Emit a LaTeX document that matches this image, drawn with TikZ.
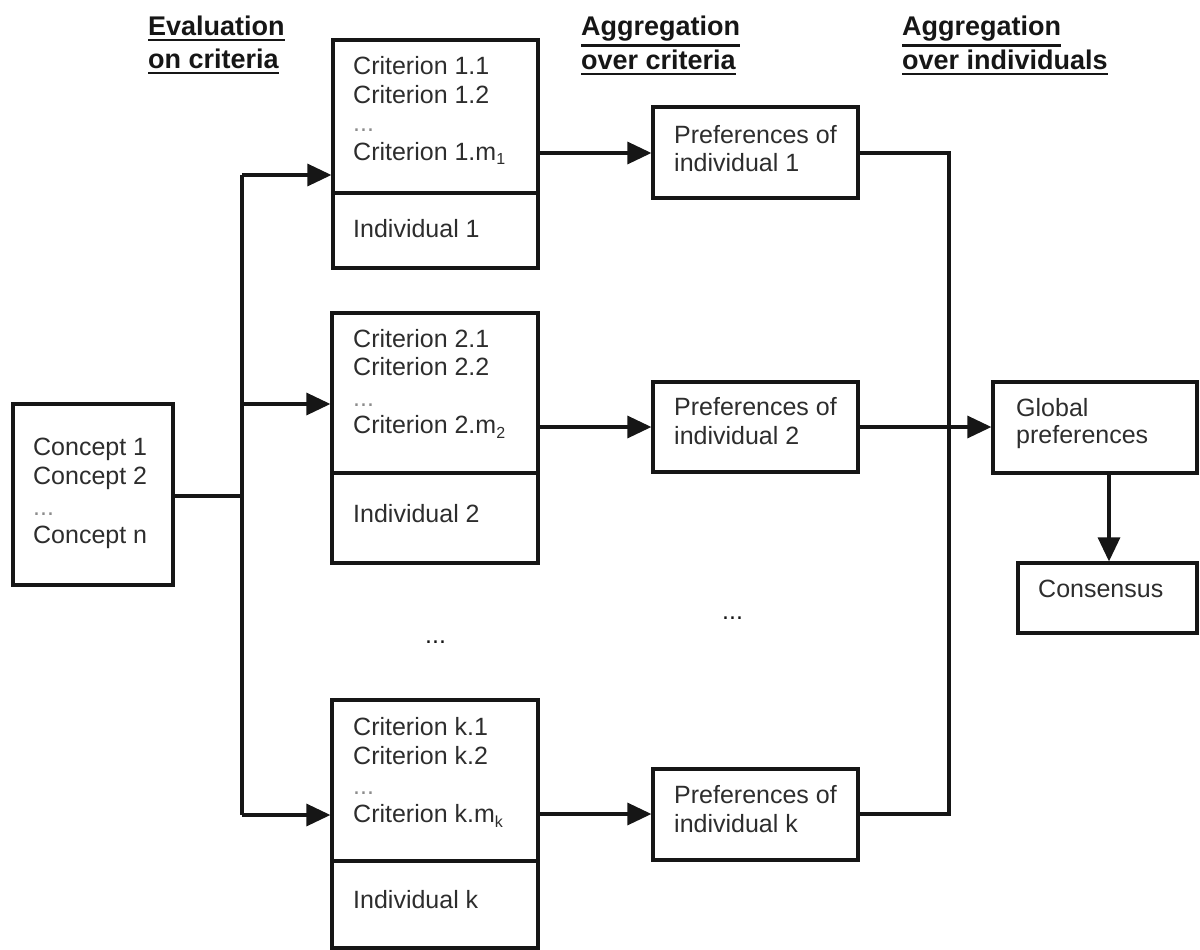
\documentclass[tikz,border=0pt]{standalone}
\usepackage{fontspec}
\setmainfont{Liberation Sans}
\usetikzlibrary{arrows.meta}
\definecolor{ln}{RGB}{22,22,22}
\definecolor{tx}{RGB}{45,45,45}
\newcommand{\subidx}[1]{\raisebox{-5pt}{\fontsize{16}{16}\selectfont #1}}
\begin{document}
\begin{tikzpicture}[x=1pt,y=-1pt,
  box/.style={draw=ln,line width=3.2pt,inner sep=0pt},
  lbl/.style={anchor=base west,inner sep=0pt,text=tx,font=\fontsize{25}{30}\selectfont},
  dotlbl/.style={lbl,text=black!45},
  hdr/.style={anchor=base west,inner sep=0pt,text=ln,font=\fontsize{27}{32}\selectfont\bfseries},
  uline/.style={draw=ln,line width=2.6pt},
  wire/.style={draw=ln,line width=3.2pt},
  arr/.style={wire,-{Triangle[length=24pt,width=22pt]}}]
\useasboundingbox (0,0) rectangle (1200,950);

% headers
\node[hdr] (h1a) at (148,36) {Evaluation};
\node[hdr] (h1b) at (148,69) {on criteria};
\node[hdr] (h2a) at (581,36) {Aggregation};
\node[hdr] (h2b) at (581,70) {over criteria};
\node[hdr] (h3a) at (902,36) {Aggregation};
\node[hdr] (h3b) at (902,70) {over individuals};
\foreach \h in {h1a,h1b,h2a,h2b,h3a,h3b}
  \draw[uline] ([yshift=-3.5pt]\h.south west) -- ([yshift=-3.5pt]\h.south east);

% boxes
\node[box,minimum width=160pt,minimum height=181pt] (con) at (93,494.5) {};
\node[box,minimum width=205pt,minimum height=228pt] (b1) at (435.5,154) {};
\node[box,minimum width=206pt,minimum height=250pt] (b2) at (435,438) {};
\node[box,minimum width=206pt,minimum height=248pt] (bk) at (435,824) {};
\node[box,minimum width=205pt,minimum height=91pt] (p1) at (755.5,152.5) {};
\node[box,minimum width=205pt,minimum height=90pt] (p2) at (755.5,427) {};
\node[box,minimum width=205pt,minimum height=91pt] (pk) at (755.5,814.5) {};
\node[box,minimum width=204pt,minimum height=91pt] (g) at (1095,427.5) {};
\node[box,minimum width=179pt,minimum height=70pt] (cons) at (1107.5,598) {};

% dividers
\coordinate (d1) at (0,193);
\coordinate (d2) at (0,473);
\coordinate (dk) at (0,861);
\draw[wire] (b1.west |- d1) -- (b1.east |- d1);
\draw[wire] (b2.west |- d2) -- (b2.east |- d2);
\draw[wire] (bk.west |- dk) -- (bk.east |- dk);

% concept texts
\node[lbl] (c1t) at (33,455) {Concept 1};
\node[lbl] (c2t) at (33,484) {Concept 2};
\node[dotlbl] (c3t) at (33,515) {...};
\node[lbl] (cnt) at (33,543) {Concept n};

% box 1 texts
\node[lbl] (t11) at (353,75) {Criterion 1.1};
\node[lbl] (t12) at (353,103) {Criterion 1.2};
\node[dotlbl] (t13) at (353,131) {...};
\node[lbl] (t1m) at (353,160) {Criterion 1.m\subidx{1}};
\node[lbl] (i1) at (353,237) {Individual 1};

% box 2 texts
\node[lbl] (t21) at (353,347) {Criterion 2.1};
\node[lbl] (t22) at (353,375) {Criterion 2.2};
\node[dotlbl] (t23) at (353,406) {...};
\node[lbl] (t2m) at (353,433) {Criterion 2.m\subidx{2}};
\node[lbl] (i2) at (353,522) {Individual 2};

% box k texts
\node[lbl] (tk1) at (353,735) {Criterion k.1};
\node[lbl] (tk2) at (353,764) {Criterion k.2};
\node[dotlbl] (tk3) at (353,794) {...};
\node[lbl] (tkm) at (353,822) {Criterion k.m\subidx{k}};
\node[lbl] (ik) at (353,908) {Individual k};

% preference texts
\node[lbl] (p1a) at (674,143) {Preferences of};
\node[lbl] (p1b) at (674,171) {individual 1};
\node[lbl] (p2a) at (674,415) {Preferences of};
\node[lbl] (p2b) at (674,444) {individual 2};
\node[lbl] (pka) at (674,803) {Preferences of};
\node[lbl] (pkb) at (674,832) {individual k};

% global / consensus texts
\node[lbl] (ga) at (1016,416) {Global};
\node[lbl] (gb) at (1016,443) {preferences};
\node[lbl] (ct) at (1038,597) {Consensus};

% ellipses between rows
\node[lbl,text=ln] (m1) at (425,643) {...};
\node[lbl,text=ln] (m2) at (722,619) {...};

% connectors left
\coordinate (c0) at (242,496);
\coordinate (c1) at (242,175);
\coordinate (c2) at (242,404);
\coordinate (ck) at (242,815);
\draw[wire] (con.east |- c0) -- (c0);
\draw[wire] (c1) -- (ck);
\draw[arr] (c1) -- (c1 -| b1.west);
\draw[arr] (c2) -- (c2 -| b2.west);
\draw[arr] (ck) -- (ck -| bk.west);

% connectors middle
\coordinate (o1) at (0,153);
\coordinate (o2) at (0,427);
\coordinate (ok) at (0,814);
\draw[arr] (b1.east |- o1) -- (p1.west |- o1);
\draw[arr] (b2.east |- o2) -- (p2.west |- o2);
\draw[arr] (bk.east |- ok) -- (pk.west |- ok);

% connectors right
\coordinate (v1) at (949,153);
\coordinate (vk) at (949,814);
\draw[wire] (p1.east |- v1) -- (v1) -- (vk) -- (pk.east |- vk);
\draw[arr] (p2.east |- o2) -- (g.west |- o2);
\coordinate (a) at (1109,0);
\draw[arr] (g.south -| a) -- (cons.north -| a);
\end{tikzpicture}
\end{document}
